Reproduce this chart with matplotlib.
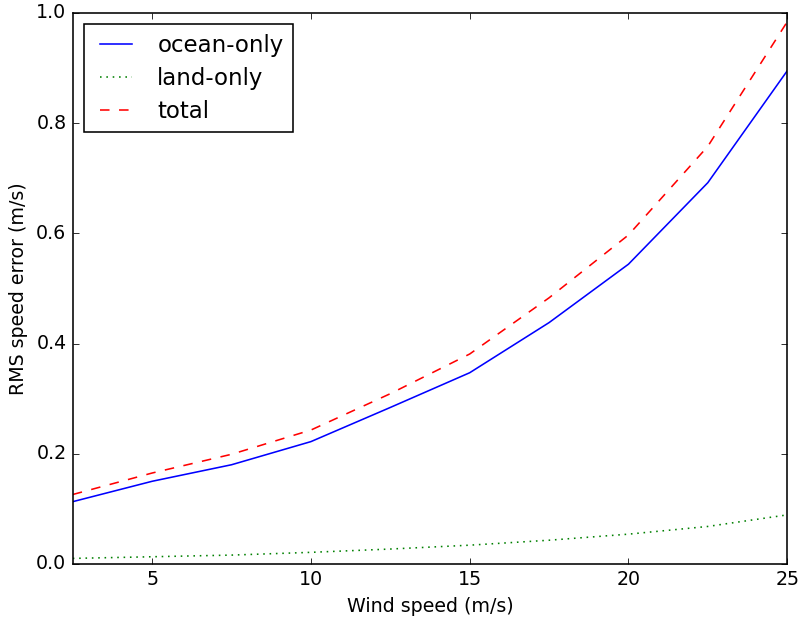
import numpy as np
import matplotlib
matplotlib.use("Agg")
import matplotlib.pyplot as plt

plt.style.use("classic")

wind = [2.5, 5, 7.5, 10, 12.5, 15, 17.5, 20, 22.5, 25]
ocean = [0.113, 0.150, 0.180, 0.222, 0.284, 0.347, 0.438, 0.544, 0.692, 0.895]
land = [0.010, 0.013, 0.016, 0.021, 0.027, 0.034, 0.043, 0.054, 0.068, 0.089]
total = [0.126, 0.165, 0.199, 0.243, 0.309, 0.381, 0.483, 0.597, 0.758, 0.984]

# 原図は少し大きめの dpi で保存されている
dpi = 800 / 7.0
fig = plt.figure(figsize=(7.0, 619 / dpi), dpi=dpi)
ax = fig.add_subplot(111)
ax.plot(wind, ocean, "b-", label="ocean-only")
ax.plot(wind, land, "g:", label="land-only")
ax.plot(wind, total, "r--", label="total")

ax.set_xlim(2.5, 25)
ax.set_ylim(0, 1.0)
ax.set_xlabel("Wind speed (m/s)")
ax.set_ylabel("RMS speed error (m/s)")
ax.legend(loc="upper left", labelspacing=0.45, borderpad=0.4)

fig.subplots_adjust(left=0.091, right=0.984, bottom=0.089, top=0.979)
fig.savefig("out.png", dpi=dpi)
